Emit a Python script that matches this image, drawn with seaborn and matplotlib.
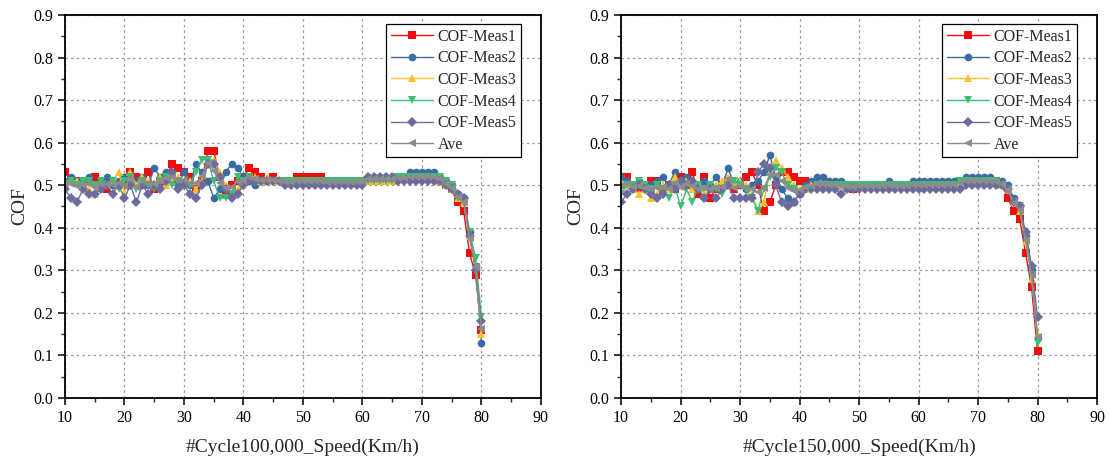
import numpy as np
import pandas as pd
import matplotlib.pyplot as plt
import seaborn as sns
from matplotlib.ticker import MultipleLocator

# speeds 10..80 km/h, one reading per km/h
SPEED = list(range(10, 81))
SERIES = ["COF-Meas1", "COF-Meas2", "COF-Meas3", "COF-Meas4", "COF-Meas5"]

# ---- cycle 100,000 ----
C100_M1 = [0.53, 0.51, 0.51, 0.50, 0.51, 0.52, 0.51, 0.49, 0.50, 0.50,
           0.51, 0.53, 0.52, 0.50, 0.53, 0.49, 0.51, 0.52, 0.55, 0.54,
           0.53, 0.52, 0.49, 0.51, 0.58, 0.58, 0.52, 0.48, 0.50, 0.51,
           0.52, 0.54, 0.53, 0.52, 0.51, 0.52, 0.51, 0.51, 0.51, 0.52,
           0.52, 0.52, 0.52, 0.52, 0.51, 0.51, 0.51, 0.51, 0.51, 0.51,
           0.51, 0.51, 0.51, 0.51, 0.51, 0.51, 0.52, 0.52, 0.52, 0.52,
           0.52, 0.52, 0.52, 0.51, 0.50, 0.49, 0.46, 0.44, 0.34, 0.29,
           0.16]
C100_M2 = [0.51, 0.52, 0.51, 0.50, 0.52, 0.50, 0.51, 0.52, 0.50, 0.51,
           0.52, 0.50, 0.51, 0.52, 0.50, 0.54, 0.52, 0.53, 0.51, 0.50,
           0.53, 0.50, 0.55, 0.53, 0.51, 0.47, 0.49, 0.53, 0.55, 0.54,
           0.52, 0.51, 0.50, 0.51, 0.51, 0.51, 0.51, 0.51, 0.51, 0.51,
           0.51, 0.51, 0.51, 0.51, 0.51, 0.51, 0.51, 0.51, 0.51, 0.51,
           0.51, 0.52, 0.52, 0.52, 0.52, 0.52, 0.52, 0.52, 0.53, 0.53,
           0.53, 0.53, 0.53, 0.52, 0.51, 0.50, 0.48, 0.47, 0.39, 0.31,
           0.13]
C100_M3 = [0.50, 0.51, 0.51, 0.50, 0.49, 0.48, 0.50, 0.50, 0.51, 0.53,
           0.48, 0.53, 0.50, 0.52, 0.51, 0.50, 0.52, 0.50, 0.51, 0.52,
           0.50, 0.51, 0.49, 0.51, 0.56, 0.56, 0.53, 0.50, 0.48, 0.49,
           0.50, 0.52, 0.52, 0.51, 0.52, 0.51, 0.51, 0.51, 0.51, 0.51,
           0.51, 0.51, 0.51, 0.51, 0.51, 0.51, 0.51, 0.51, 0.51, 0.51,
           0.51, 0.51, 0.51, 0.51, 0.51, 0.51, 0.52, 0.52, 0.52, 0.52,
           0.52, 0.52, 0.52, 0.51, 0.50, 0.49, 0.47, 0.46, 0.38, 0.31,
           0.15]
C100_M4 = [0.50, 0.51, 0.50, 0.51, 0.51, 0.50, 0.51, 0.50, 0.51, 0.49,
           0.51, 0.52, 0.49, 0.51, 0.50, 0.49, 0.51, 0.52, 0.50, 0.51,
           0.50, 0.50, 0.53, 0.56, 0.56, 0.51, 0.47, 0.47, 0.48, 0.52,
           0.51, 0.52, 0.51, 0.51, 0.51, 0.51, 0.51, 0.51, 0.51, 0.51,
           0.51, 0.51, 0.51, 0.51, 0.51, 0.51, 0.51, 0.51, 0.51, 0.51,
           0.51, 0.51, 0.51, 0.51, 0.51, 0.51, 0.52, 0.52, 0.52, 0.52,
           0.52, 0.52, 0.52, 0.52, 0.51, 0.50, 0.47, 0.46, 0.39, 0.33,
           0.19]
C100_M5 = [0.49, 0.47, 0.46, 0.49, 0.48, 0.48, 0.49, 0.50, 0.48, 0.50,
           0.47, 0.50, 0.46, 0.50, 0.48, 0.50, 0.49, 0.51, 0.53, 0.49,
           0.50, 0.48, 0.47, 0.50, 0.55, 0.55, 0.52, 0.49, 0.47, 0.48,
           0.50, 0.51, 0.51, 0.51, 0.51, 0.51, 0.51, 0.50, 0.50, 0.50,
           0.50, 0.50, 0.50, 0.50, 0.50, 0.50, 0.50, 0.50, 0.50, 0.50,
           0.50, 0.52, 0.52, 0.52, 0.52, 0.52, 0.51, 0.51, 0.51, 0.51,
           0.51, 0.51, 0.51, 0.51, 0.50, 0.49, 0.48, 0.47, 0.38, 0.30,
           0.18]

# ---- cycle 150,000 ----
C150_M1 = [0.52, 0.52, 0.50, 0.49, 0.50, 0.51, 0.51, 0.49, 0.50, 0.49,
           0.52, 0.50, 0.53, 0.48, 0.52, 0.47, 0.49, 0.50, 0.51, 0.49,
           0.50, 0.52, 0.53, 0.50, 0.44, 0.46, 0.50, 0.53, 0.53, 0.52,
           0.51, 0.51, 0.50, 0.50, 0.50, 0.50, 0.50, 0.50, 0.50, 0.49,
           0.50, 0.50, 0.50, 0.50, 0.50, 0.50, 0.50, 0.50, 0.50, 0.50,
           0.50, 0.50, 0.50, 0.50, 0.50, 0.50, 0.50, 0.51, 0.51, 0.51,
           0.51, 0.51, 0.51, 0.51, 0.50, 0.47, 0.44, 0.42, 0.34, 0.26,
           0.11]
C150_M2 = [0.52, 0.51, 0.50, 0.51, 0.49, 0.50, 0.51, 0.52, 0.50, 0.53,
           0.50, 0.52, 0.50, 0.49, 0.51, 0.50, 0.52, 0.50, 0.54, 0.50,
           0.51, 0.49, 0.50, 0.51, 0.53, 0.57, 0.52, 0.49, 0.47, 0.46,
           0.48, 0.50, 0.51, 0.52, 0.52, 0.51, 0.51, 0.51, 0.50, 0.50,
           0.50, 0.50, 0.50, 0.50, 0.50, 0.51, 0.50, 0.50, 0.50, 0.51,
           0.51, 0.51, 0.51, 0.51, 0.51, 0.51, 0.51, 0.51, 0.52, 0.52,
           0.52, 0.52, 0.52, 0.51, 0.51, 0.50, 0.47, 0.45, 0.38, 0.30,
           0.14]
C150_M3 = [0.51, 0.50, 0.49, 0.48, 0.49, 0.47, 0.48, 0.50, 0.49, 0.52,
           0.50, 0.51, 0.49, 0.50, 0.48, 0.49, 0.50, 0.51, 0.52, 0.50,
           0.51, 0.50, 0.48, 0.44, 0.46, 0.53, 0.56, 0.54, 0.52, 0.50,
           0.49, 0.49, 0.50, 0.50, 0.50, 0.50, 0.50, 0.50, 0.50, 0.50,
           0.50, 0.50, 0.50, 0.50, 0.50, 0.50, 0.50, 0.50, 0.50, 0.50,
           0.50, 0.50, 0.50, 0.50, 0.50, 0.50, 0.50, 0.51, 0.51, 0.51,
           0.51, 0.51, 0.51, 0.51, 0.50, 0.49, 0.46, 0.44, 0.37, 0.28,
           0.15]
C150_M4 = [0.48, 0.50, 0.50, 0.51, 0.50, 0.49, 0.50, 0.49, 0.47, 0.50,
           0.45, 0.49, 0.46, 0.50, 0.49, 0.50, 0.49, 0.48, 0.50, 0.51,
           0.50, 0.49, 0.47, 0.44, 0.49, 0.52, 0.54, 0.53, 0.50, 0.49,
           0.48, 0.49, 0.49, 0.50, 0.50, 0.50, 0.50, 0.50, 0.50, 0.50,
           0.50, 0.50, 0.50, 0.50, 0.50, 0.50, 0.50, 0.50, 0.50, 0.50,
           0.50, 0.50, 0.50, 0.50, 0.50, 0.50, 0.50, 0.51, 0.51, 0.51,
           0.51, 0.51, 0.51, 0.51, 0.50, 0.49, 0.46, 0.45, 0.38, 0.29,
           0.13]
C150_M5 = [0.46, 0.48, 0.49, 0.50, 0.49, 0.48, 0.47, 0.48, 0.50, 0.49,
           0.51, 0.50, 0.51, 0.49, 0.47, 0.49, 0.47, 0.49, 0.50, 0.47,
           0.47, 0.47, 0.47, 0.53, 0.55, 0.54, 0.50, 0.46, 0.45, 0.46,
           0.48, 0.49, 0.49, 0.49, 0.49, 0.49, 0.49, 0.48, 0.49, 0.49,
           0.49, 0.49, 0.49, 0.49, 0.49, 0.49, 0.49, 0.49, 0.49, 0.49,
           0.49, 0.49, 0.49, 0.49, 0.49, 0.49, 0.49, 0.49, 0.50, 0.50,
           0.50, 0.50, 0.50, 0.50, 0.50, 0.49, 0.46, 0.45, 0.39, 0.31,
           0.19]

PANELS = [
    ("#Cycle100,000_Speed(Km/h)", [C100_M1, C100_M2, C100_M3, C100_M4, C100_M5]),
    ("#Cycle150,000_Speed(Km/h)", [C150_M1, C150_M2, C150_M3, C150_M4, C150_M5]),
]

PALETTE = {
    "COF-Meas1": "#F20D0D",
    "COF-Meas2": "#386CA3",
    "COF-Meas3": "#FCC02A",
    "COF-Meas4": "#3CBF73",
    "COF-Meas5": "#6B6B9E",
    "Ave": "#8C8C8C",
}
MARKERS = {
    "COF-Meas1": "s",
    "COF-Meas2": "o",
    "COF-Meas3": "^",
    "COF-Meas4": "v",
    "COF-Meas5": "D",
    "Ave": "<",
}
ORDER = SERIES + ["Ave"]


def build_frame(values):
    frames = []
    for name, vals in zip(SERIES, values):
        frames.append(pd.DataFrame({"speed": SPEED, "cof": vals, "series": name}))
    ave = np.mean(np.array(values), axis=0)
    frames.append(pd.DataFrame({"speed": SPEED, "cof": ave, "series": "Ave"}))
    return pd.concat(frames, ignore_index=True)


sns.set_theme(style="white")
plt.rcParams["font.family"] = ["Liberation Serif", "DejaVu Serif"]
plt.rcParams["mathtext.default"] = "regular"

fig = plt.figure(figsize=(11.09, 4.63), dpi=100)
axes = [fig.add_axes([0.0586, 0.1404, 0.4292, 0.8272]),
        fig.add_axes([0.5600, 0.1404, 0.4292, 0.8272])]

for ax, (xlabel, values) in zip(axes, PANELS):
    df = build_frame(values)
    sns.lineplot(
        data=df, x="speed", y="cof", hue="series", style="series",
        hue_order=ORDER, style_order=ORDER, palette=PALETTE,
        markers=MARKERS, dashes=False, linewidth=1.0,
        markersize=5.5, markeredgewidth=0, ax=ax,
    )
    ax.set_xlim(10, 90)
    ax.set_ylim(0.0, 0.9)
    ax.xaxis.set_major_locator(MultipleLocator(10))
    ax.xaxis.set_minor_locator(MultipleLocator(5))
    ax.yaxis.set_major_locator(MultipleLocator(0.1))
    ax.yaxis.set_minor_locator(MultipleLocator(0.05))
    ax.yaxis.set_major_formatter(plt.FormatStrFormatter("%.1f"))
    ax.grid(True, which="major", color="#9A9A9A", linestyle=(0, (2, 2.5)), linewidth=0.9)
    for sp in ax.spines.values():
        sp.set_color("black")
        sp.set_linewidth(1.3)
    ax.tick_params(axis="both", which="major", direction="out", length=5, width=1.1,
                   labelsize=11.5, colors="black", bottom=True, left=True)
    ax.tick_params(axis="both", which="minor", direction="out", length=3, width=1.0,
                   bottom=True, left=True)
    ax.set_xlabel(xlabel, fontsize=14, labelpad=9)
    ax.set_ylabel("COF", fontsize=14, labelpad=4)

    handles, labels = ax.get_legend_handles_labels()
    leg = ax.legend(handles, labels, loc="upper right", bbox_to_anchor=(0.965, 0.985),
                    fontsize=11.5, frameon=True, fancybox=False, framealpha=1,
                    edgecolor="black", handlelength=2.6, handletextpad=0.3,
                    labelspacing=0.35, borderpad=0.3, borderaxespad=0.2)
    leg.get_frame().set_linewidth(0.9)

fig.savefig("out.png", dpi=100)
